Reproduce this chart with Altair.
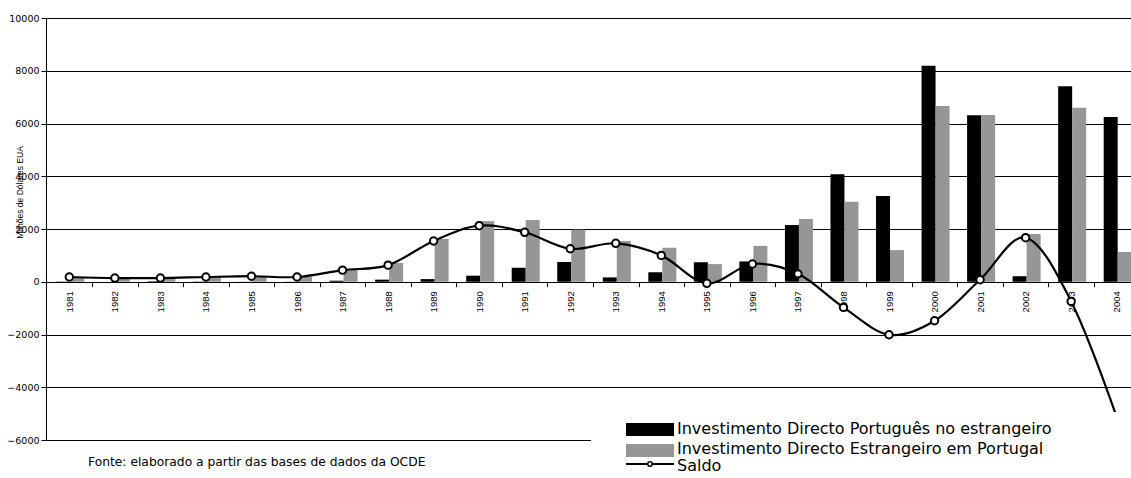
import altair as alt
import pandas as pd

years = list(range(1981, 2005))
idpe = [10, 0, 20, 10, 5, 5, 40, 80, 100, 230, 530, 750, 165, 360, 740, 770,
        2150, 4080, 3250, 8190, 6310, 210, 7410, 6250]
ide = [170, 150, 140, 190, 210, 180, 480, 710, 1620, 2300, 2340, 1975, 1545, 1290,
       670, 1360, 2380, 3030, 1200, 6660, 6320, 1810, 6600, 1130]
saldo = [180, 140, 140, 180, 210, 180, 440, 630, 1545, 2125, 1875, 1250, 1457, 1000,
         -60, 672, 300, -973, -2010, -1480, 76, 1670, -745, -5120]
y_ticks = [-6000, -4000, -2000, 0, 2000, 4000, 6000, 8000, 10000]

legend_labels = ["Investimento Directo Português no estrangeiro",
                 "Investimento Directo Estrangeiro em Portugal",
                 "Saldo"]
source_note = "Fonte: elaborado a partir das bases de dados da OCDE"
y_title = "Milhões de Dólares EUA"

df = pd.DataFrame({"ano": years, "idpe": idpe, "ide": ide, "saldo": saldo})
one = pd.DataFrame({"k": [0]})

W, H = 1085, 422
step = 45.54

xscale = alt.Scale(domain=[1980.488, 2004.314], nice=False, zero=False, padding=0)
yscale = alt.Scale(domain=[-6000, 10000], nice=False, zero=False, padding=0)

xaxis = alt.Axis(values=years, format="d", tickOffset=step / 2, labelOffset=-step / 2,
                 offset=-158.25, domain=False, tickColor="black", tickSize=5,
                 labelAngle=270, labelFont="Liberation Sans", labelFontSize=9.5,
                 labelColor="black", labelPadding=4, title=None, grid=False,
                 labelOverlap=False, labelFlush=False)
yaxis = alt.Axis(values=y_ticks, format="d", grid=True, gridColor="black", gridOpacity=1,
                 gridWidth=1, domainColor="black", tickColor="black", tickSize=5,
                 labelFont="DejaVu Sans", labelFontSize=9.5, labelColor="black",
                 labelPadding=2, title=y_title, titleFont="Liberation Sans",
                 titleFontSize=8.5, titleFontWeight="normal", titleAngle=270,
                 titleX=-26.5, titleY=174, titleAlign="center",
                 titleBaseline="middle", titleColor="black")

base = alt.Chart(df)
x_enc = alt.X("ano:Q", scale=xscale, axis=xaxis)

bars_a = base.mark_bar(width=14, xOffset=-6, color="black").encode(
    x=x_enc, y=alt.Y("idpe:Q", scale=yscale, axis=yaxis))
bars_b = base.mark_bar(width=14, xOffset=8, color="#969696").encode(
    x="ano:Q", y="ide:Q")
line = base.mark_line(interpolate="cardinal", color="black", strokeWidth=2.2).encode(
    x="ano:Q", y="saldo:Q")
pts = base.mark_point(filled=False, fill="white", fillOpacity=1, stroke="black",
                      strokeWidth=2, size=55, opacity=1).encode(x="ano:Q", y="saldo:Q")

lg = alt.Chart(one)
leg_bg = lg.mark_rect(color="white").encode(
    x=alt.value(545), x2=alt.value(1085), y=alt.value(394), y2=alt.value(460))
sw1 = lg.mark_rect(color="black").encode(
    x=alt.value(580), x2=alt.value(628), y=alt.value(405), y2=alt.value(418))
sw2 = lg.mark_rect(color="#969696").encode(
    x=alt.value(580), x2=alt.value(628), y=alt.value(426), y2=alt.value(439))
sw3 = lg.mark_rule(color="black", strokeWidth=2).encode(
    x=alt.value(580), x2=alt.value(628), y=alt.value(446))
sw3p = lg.mark_point(filled=False, fill="white", fillOpacity=1, stroke="black",
                     strokeWidth=1.5, size=20, opacity=1).encode(
    x=alt.value(604), y=alt.value(446))

def ltext(label, y):
    return lg.mark_text(text=label, font="DejaVu Sans", fontSize=16, align="left",
                        baseline="middle", color="black").encode(
        x=alt.value(631), y=alt.value(y))

t1 = ltext(legend_labels[0], 411)
t2 = ltext(legend_labels[1], 431)
t3 = ltext(legend_labels[2], 448)

note = lg.mark_text(text=source_note, font="DejaVu Sans", fontSize=12.3, align="left",
                    baseline="middle", color="black").encode(
    x=alt.value(42), y=alt.value(444))

chart = alt.layer(bars_a, bars_b, line, pts, leg_bg, sw1, sw2, sw3, sw3p, t1, t2, t3,
                  note).properties(
    width=W, height=H,
    padding={"left": 46, "top": 18, "right": 0, "bottom": 38},
    autosize=alt.AutoSizeParams(type="none"),
    background="white",
).configure_view(strokeWidth=0)

chart.save("out.html", embed_options={"renderer": "svg", "actions": False})
